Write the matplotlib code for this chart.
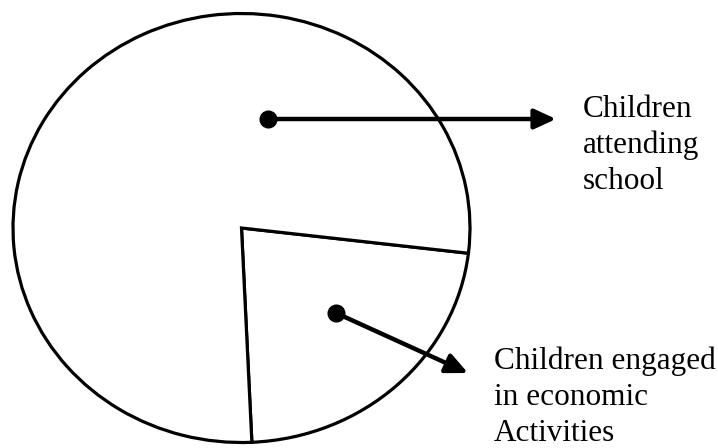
import matplotlib
matplotlib.use("Agg")
import matplotlib.pyplot as plt

# share of children (percent)
categories = ["Children engaged in economic Activities", "Children attending school"]
shares = [22.4, 77.6]
label_lines = [
    ["Children", "attending", "school"],
    ["Children engaged", "in economic", "Activities"],
]

W, H = 718, 448
CX, CY, RX, RY = 241.5, 228, 228.5, 214.5


def to_data(px, py):
    # image pixel -> pie data coordinates
    return (px - CX) / RX, (CY - py) / RY


fig = plt.figure(figsize=(W / 100, H / 100), dpi=100)
ax = fig.add_axes([0, 0, 1, 1])

ax.pie(shares, startangle=-87.4, counterclock=True,
       colors=["white", "white"],
       wedgeprops={"edgecolor": "black", "linewidth": 2.3})
ax.set_aspect("auto")
ax.set_xlim(-CX / RX, (W - CX) / RX)
ax.set_ylim((CY - H) / RY, CY / RY)
ax.axis("off")

# pointers: dot inside a slice, arrow out to its label
pointers = [((268, 119), (556, 119)), ((336, 313), (468, 373))]
for (start, end) in pointers:
    sx, sy = to_data(*start)
    ex, ey = to_data(*end)
    ax.plot(sx, sy, "o", color="black", markersize=12)
    ax.annotate("", xy=(ex, ey), xytext=(sx, sy),
                arrowprops=dict(arrowstyle="-|>,head_length=13,head_width=6",
                                mutation_scale=1, color="black", lw=3.2,
                                shrinkA=0, shrinkB=0))

label_pos = [(583, 117), (494, 369)]
for lines, (lx, ly) in zip(label_lines, label_pos):
    for i, line in enumerate(lines):
        tx, ty = to_data(lx, ly + i * 36)
        ax.text(tx, ty, line, fontsize=22.5, family="Liberation Serif",
                ha="left", va="baseline")

fig.savefig("out.png", dpi=100)
